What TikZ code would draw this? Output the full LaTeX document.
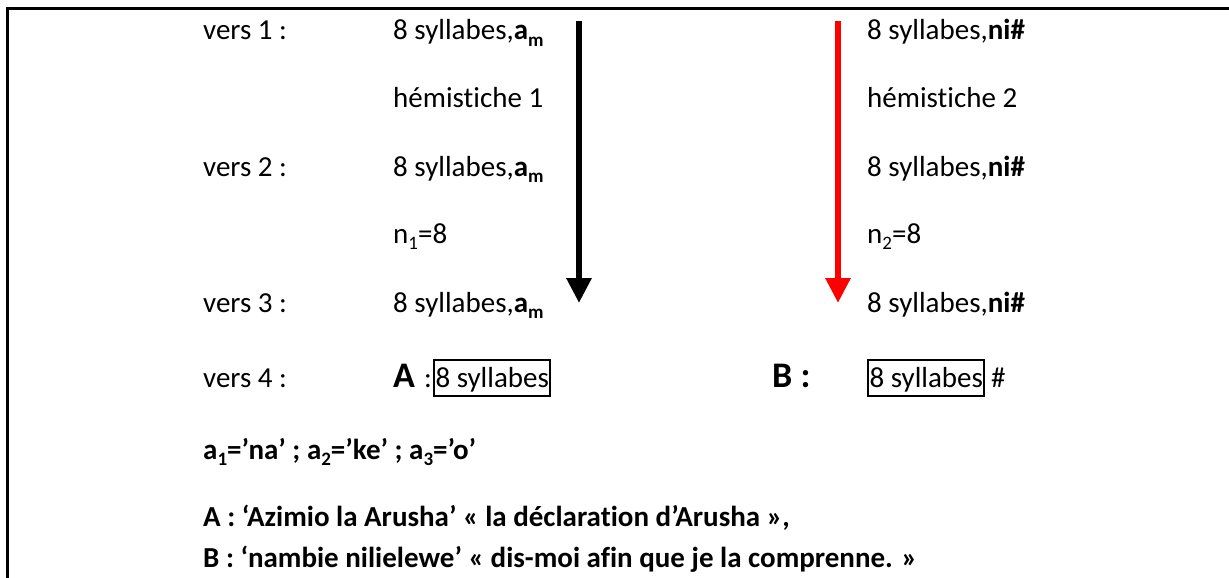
\documentclass[tikz,border=0pt]{standalone}
\usepackage{fontspec}
\setmainfont{Carlito}[Ligatures={NoCommon}]
\usetikzlibrary{arrows.meta}
\newcommand\sbs[1]{\raisebox{-0.22em}{\fontsize{19}{19}\selectfont #1}}
\begin{document}
\begin{tikzpicture}[x=1pt,y=-1pt,
  txt/.style={anchor=base west,inner sep=0pt,font=\fontsize{29}{35}\selectfont},
  big/.style={anchor=base west,inner sep=0pt,font=\fontsize{36}{40}\selectfont\bfseries},
  sylbox/.style={anchor=base west,draw,line width=2pt,inner xsep=1.5pt,inner ysep=0pt,text height=27pt,text depth=9pt,font=\fontsize{29}{35}\selectfont},
  frame/.style={line width=3pt},
  bigarrow/.style={line width=6pt,-{Triangle[width=24pt,length=25pt]}}]
\useasboundingbox (0,0) rectangle (1229,578);
% frame
\coordinate (tl) at (7,9);
\coordinate (tr) at (1229,9);
\coordinate (bl) at (7,578);
\draw[frame] (tr) -- (tl) -- (bl);
% left labels
\node[txt] (v1) at (203,40) {vers 1 :};
\node[txt] (v2) at (203,176) {vers 2 :};
\node[txt] (v3) at (203,312) {vers 3 :};
\node[txt] (v4) at (203,387) {vers 4 :};
% middle column
\node[txt] (m1) at (393,40) {8 syllabes,\textbf{a\sbs{m}}};
\node[txt] (m2) at (393,107) {hémistiche 1};
\node[txt] (m3) at (393,176) {8 syllabes,\textbf{a\sbs{m}}};
\node[txt] (m4) at (393,243) {n\sbs{1}=8};
\node[txt] (m5) at (393,312) {8 syllabes,\textbf{a\sbs{m}}};
\node[big] (A) at (393,387) {A};
\node[txt] (Acol) at (424,387) {:};
\node[sylbox] (boxA) at (433,387) {8 syllabes};
% right column
\node[txt] (r1) at (867,40) {8 syllabes,\textbf{ni\#}};
\node[txt] (r2) at (867,107) {hémistiche 2};
\node[txt] (r3) at (867,176) {8 syllabes,\textbf{ni\#}};
\node[txt] (r4) at (867,243) {n\sbs{2}=8};
\node[txt] (r5) at (867,312) {8 syllabes,\textbf{ni\#}};
\node[big] (B) at (772,387) {B :};
\node[sylbox] (boxB) at (867,387) {8 syllabes};
\node[txt] (hash) at (991,387) {\#};
% arrows
\coordinate (ka) at (579,21);
\coordinate (kb) at (579,303);
\coordinate (ra) at (838,21);
\coordinate (rb) at (838,303);
\draw[bigarrow,black] (ka) -- (kb);
\draw[bigarrow,red] (ra) -- (rb);
% notes
\node[txt,font=\fontsize{29}{35}\selectfont\bfseries] (n1) at (203,459) {a\sbs{1}=’na’ ; a\sbs{2}=’ke’ ; a\sbs{3}=’o’};
\node[txt,font=\fontsize{29}{35}\selectfont\bfseries] (n2) at (203,526) {A : ‘Azimio la Arusha’ « la déclaration d’Arusha »,};
\node[txt,font=\fontsize{29}{35}\selectfont\bfseries] (n3) at (203,567) {B : ‘nambie nilielewe’ « dis-moi afin que je la comprenne. »};
\end{tikzpicture}
\end{document}
